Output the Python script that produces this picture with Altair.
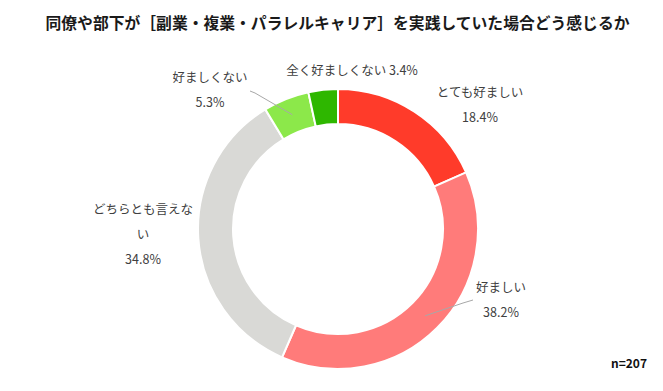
import math
import altair as alt
import pandas as pd

# ---- data ----
categories = ["とても好ましい", "好ましい", "どちらとも言えない", "好ましくない", "全く好ましくない"]
values = [18.4, 38.2, 34.8, 5.3, 3.4]
colors = ["#FF3B2A", "#FF7B7A", "#D9D9D6", "#8CE84A", "#2EB700"]
label_texts = ["とても好ましい\n18.4%", "好ましい\n38.2%", "どちらとも言えな\nい\n34.8%",
               "好ましくない\n5.3%", "全く好ましくない  3.4%"]
# label block anchors, offsets from donut centre (px, y up)
label_dx = [142, 163, -195, -128, 14]
label_dy = [136, -59, 19, 151, 158]
# leader lines: outer points (px from centre, y up); inner point at slice middle
leader_cats = ["好ましくない", "好ましい"]
leader_outer = {"好ましくない": [(-88, 138), (-83, 136)], "好ましい": [(135, -71), (125, -74)]}
title = "同僚や部下が［副業・複業・パラレルキャリア］を実践していた場合どう感じるか"
note = "n=207"

FONT = "Noto Sans CJK JP"
W, H = 647, 343
cx, cy = 330, 188
R_OUT, R_IN, R_LEAD = 140, 105, 123

slices = pd.DataFrame({"category": categories, "value": values, "order": list(range(len(values)))})
labels = pd.DataFrame({"category": categories, "label": label_texts, "lx": label_dx, "ly": label_dy})

total = sum(values)
cum = 0
mids = {}
for c, v in zip(categories, values):
    mids[c] = (cum + v / 2) / total * 2 * math.pi
    cum += v
rows = []
for c in leader_cats:
    pts = leader_outer[c] + [(R_LEAD * math.sin(mids[c]), R_LEAD * math.cos(mids[c]))]
    for i, (px, py) in enumerate(pts):
        rows.append({"category": c, "seq": i, "x": px, "y": py})
leaders = pd.DataFrame(rows)

xs = alt.Scale(domain=[-cx, W - cx], range=[0, W], nice=False, zero=False)
ys = alt.Scale(domain=[-(H - cy), cy], range=[H, 0], nice=False, zero=False)

arcs = alt.Chart(slices).mark_arc(
    outerRadius=R_OUT, innerRadius=R_IN, stroke="white", strokeWidth=2
).encode(
    theta=alt.Theta("value:Q", stack=True),
    color=alt.Color("category:N", scale=alt.Scale(domain=categories, range=colors), legend=None),
    order=alt.Order("order:Q"),
    x=alt.value(cx),
    y=alt.value(cy),
)

lines = alt.Chart(leaders).mark_line(color="#A8A8A8", strokeWidth=1).encode(
    x=alt.X("x:Q", scale=xs, axis=None),
    y=alt.Y("y:Q", scale=ys, axis=None),
    detail="category:N",
    order="seq:Q",
)

texts = alt.Chart(labels).mark_text(
    font=FONT, fontSize=12.5, color="#404040", lineBreak="\n", lineHeight=25,
    align="center", baseline="middle"
).encode(
    x=alt.X("lx:Q", scale=xs, axis=None),
    y=alt.Y("ly:Q", scale=ys, axis=None),
    text="label:N",
)

n_text = alt.Chart(pd.DataFrame({"t": [note]})).mark_text(
    font=FONT, fontSize=12, fontWeight="bold", color="#111111", align="right", baseline="middle"
).encode(x=alt.value(W - 8), y=alt.value(H - 20), text="t:N")

chart = alt.layer(arcs, lines, texts, n_text).properties(
    width=W, height=H,
    padding={"left": 0, "right": 0, "top": 8, "bottom": 0},
    title=alt.TitleParams(text=title, font=FONT, fontSize=15.8, fontWeight="bold",
                          color="#1A1A1A", anchor="middle", offset=8, dx=6),
).configure_view(stroke=None)

chart.save("out.html", embed_options={"renderer": "svg", "actions": False})
